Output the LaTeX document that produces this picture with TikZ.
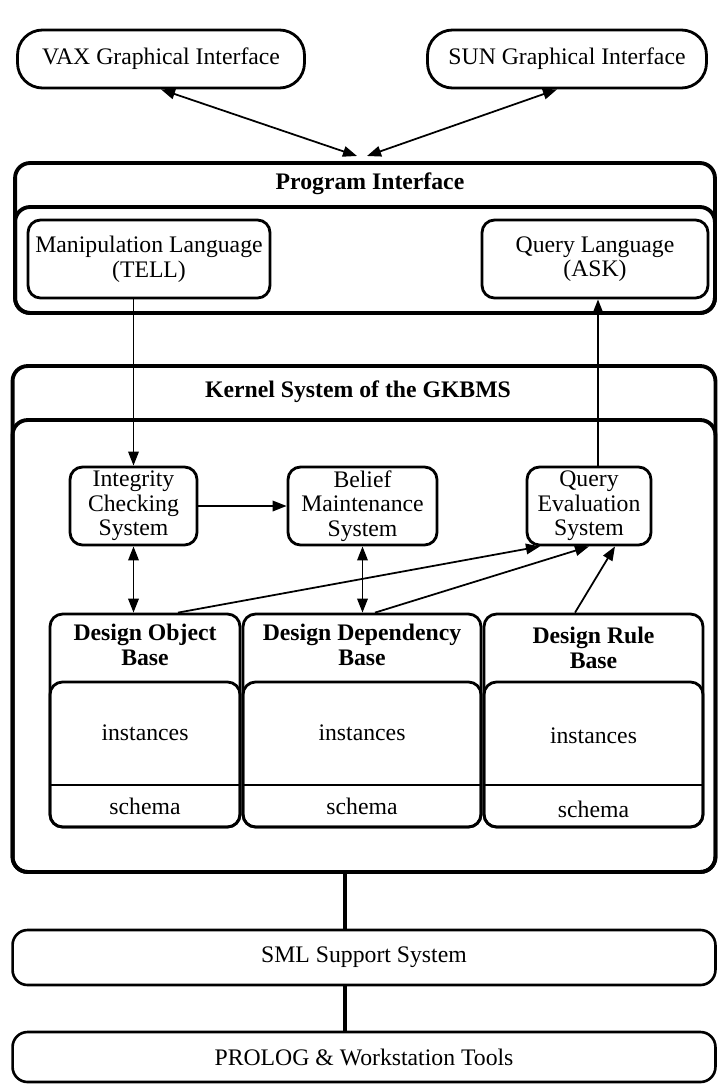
\documentclass[tikz,border=0pt]{standalone}
\usepackage{fontspec}
\setmainfont{Liberation Serif}
\usetikzlibrary{positioning}
\usetikzlibrary{arrows.meta}

\tikzset{
  pill/.style={draw, line width=1.6pt, rounded corners=0.5cm, align=center},
  frame/.style={draw, line width=2.2pt, rounded corners=0.3cm},
  layer/.style={draw, line width=1.5pt, rounded corners=0.3cm, align=center},
  sysbox/.style={draw, line width=1.6pt, rounded corners=0.25cm, align=center, inner sep=1pt},
  basebox/.style={draw, line width=1.6pt, rounded corners=0.25cm},
  title/.style={font=\fontsize{13.5}{14}\selectfont\bfseries, align=center},
  arr/.style={-{Triangle[length=8pt,width=6pt]}, line width=1pt},
  dbl/.style={{Triangle[length=8pt,width=6pt]}-{Triangle[length=8pt,width=6pt]}, line width=1pt},
  link/.style={line width=2.2pt}
}

\begin{document}
\begin{tikzpicture}[x=0.02cm, y=-0.02cm, font=\fontsize{13.5}{14}\selectfont]
\useasboundingbox (0,0) rectangle (719,1085);

% graphical front ends
\node[pill, minimum width=5.74cm, minimum height=1.16cm] (vax) at (161,59) {VAX Graphical Interface};
\node[pill, minimum width=5.58cm, minimum height=1.16cm] (sun) at (567,59) {SUN Graphical Interface};

% program interface
\node[frame, minimum width=14.0cm, minimum height=3.0cm] (prog) at (365,238) {};
\node[frame, minimum width=14.0cm, minimum height=2.12cm] (progin) at (365,260) {};
\node[title] (progtitle) at (370,184) {Program Interface};
\node[sysbox, minimum width=4.84cm, minimum height=1.56cm] (tell) at (149,259) {Manipulation Language\\(TELL)};
\node[sysbox, minimum width=4.52cm, minimum height=1.56cm] (ask) at (595,259) {Query Language\\(ASK)};

\coordinate (vaxin) at (357,156);
\coordinate (sunin) at (367,156);
\draw[dbl] (vax.south) -- (vaxin);
\draw[dbl] ([xshift=-0.2cm]sun.south) -- (sunin);

% kernel system
\node[frame, minimum width=14.06cm, minimum height=10.12cm] (kern) at (364,619) {};
\node[frame, minimum width=14.06cm, minimum height=9.04cm] (kernin) at (364,646) {};
\node[title] (kerntitle) at (358,392) {Kernel System of the GKBMS};

\node[sysbox, minimum width=2.54cm, minimum height=1.56cm] (ics) at (133.5,506) {Integrity\\Checking\\System};
\node[sysbox, minimum width=2.98cm, minimum height=1.56cm] (bms) at (362.5,506) {Belief\\Maintenance\\System};
\node[sysbox, minimum width=2.48cm, minimum height=1.56cm] (qes) at (589,506) {Query\\Evaluation\\System};

% the three bases
\node[basebox, minimum width=3.8cm, minimum height=4.26cm] (dob) at (145,720.5) {};
\node[basebox, minimum width=4.76cm, minimum height=4.26cm] (ddb) at (362,720.5) {};
\node[basebox, minimum width=4.38cm, minimum height=4.26cm] (drb) at (593.5,720.5) {};
\draw[basebox] (50,682) rectangle (240,827);
\draw[basebox] (243,682) rectangle (481,827);
\draw[basebox] (484,682) rectangle (703,827);
\draw[line width=1.2pt] (50,785) -- (240,785) (243,785) -- (481,785) (484,785) -- (703,785);

\node[title] (dobtitle) at (145,645) {Design Object\\Base};
\node[title] (ddbtitle) at (362,645) {Design Dependency\\Base};
\node[title] (drbtitle) at (593.5,648) {Design Rule\\Base};
\node (dobinst) at (145,733) {instances};
\node (ddbinst) at (362,733) {instances};
\node (drbinst) at (593.5,736) {instances};
\node (dobschema) at (145,806) {schema};
\node (ddbschema) at (362,806) {schema};
\node (drbschema) at (593.5,809) {schema};

\draw[arr] (ics.north |- tell.south) -- (ics.north);
\draw[arr] ([xshift=0.18cm]qes.north) -- ([xshift=0.18cm]qes.north |- ask.south);
\draw[arr] (ics.east) -- (bms.west);
\draw[dbl] (ics.south) -- (ics.south |- dob.north);
\draw[dbl] (bms.south) -- (bms.south |- ddb.north);
\draw[arr] ([xshift=0.66cm]dob.north) -- ([xshift=-0.98cm]qes.south);
\draw[arr] ([xshift=0.26cm]ddb.north) -- (qes.south);
\draw[arr] ([xshift=-0.37cm]drb.north) -- ([xshift=0.52cm]qes.south);

% support layers
\node[layer, minimum width=14.06cm, minimum height=1.1cm] (sml) at (364,957.5) {SML Support System};
\node[layer, minimum width=14.06cm, minimum height=1.0cm] (prolog) at (364,1057) {PROLOG \& Workstation Tools};

\draw[link] ([xshift=-0.38cm]kern.south) -- ([xshift=-0.38cm]sml.north);
\draw[link] ([xshift=-0.38cm]sml.south) -- ([xshift=-0.38cm]prolog.north);

\end{tikzpicture}
\end{document}
